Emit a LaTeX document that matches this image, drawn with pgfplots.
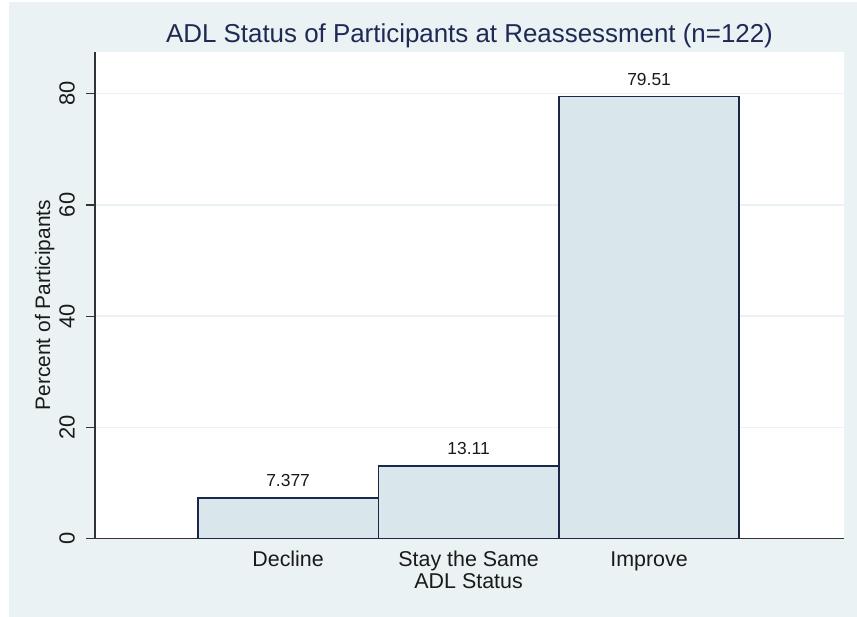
\documentclass[border=0pt]{standalone}
\usepackage{fontspec}
\setmainfont{Liberation Sans}
\usepackage{pgfplots}
\pgfplotsset{compat=1.18}
\definecolor{bg}{HTML}{EAF2F3}
\definecolor{barfill}{HTML}{D9E6EB}
\definecolor{baredge}{HTML}{1C2648}
\definecolor{titlec}{HTML}{1E2A55}
\definecolor{axisc}{HTML}{333333}
\definecolor{txt}{HTML}{1A1A1A}
\newcommand{\up}{\rule{0pt}{16bp}}
\begin{document}
\begin{tikzpicture}[x=1bp,y=1bp]
\fill[white] (-95,-78.3) rectangle (762,538.7);
\fill[bg] (-86,-78.3) rectangle (762,536.7);
\begin{axis}[
  at={(0,0)}, anchor=south west,
  scale only axis, width=749bp, height=486.7bp,
  xmin=-0.07, xmax=4.08, ymin=0, ymax=87.5,
  axis background/.style={fill=white},
  axis x line*=bottom, axis y line*=left,
  axis line style={axisc, line width=1.4bp},
  xtick={1,2,3},
  xticklabels={\up Decline,{\up Stay the Same\\ADL Status},\up Improve},
  x tick style={draw=none},
  ytick={0,20,40,60,80},
  y tick style={axisc, line width=1.2bp},
  tick align=outside, major tick length=9bp,
  ymajorgrids, grid style={bg, line width=1.5bp},
  /pgf/number format/assume math mode=true,
  ticklabel style={text=txt},
  yticklabel style={rotate=90, anchor=south, inner sep=0pt,
    font=\fontsize{22}{24}\selectfont},
  yticklabel shift=11bp,
  xticklabel style={anchor=north, yshift=-3bp, align=center,
    inner sep=0pt, font=\fontsize{21.5}{21.5}\selectfont},
  title={ADL Status of Participants at Reassessment (n=122)},
  title style={at={(0.5,1)}, anchor=base, yshift=4bp, inner sep=0pt,
    font=\fontsize{26}{30}\selectfont, text=titlec},
  ylabel={Percent of Participants},
  ylabel style={at={(axis description cs:-0.067,0.48)}, anchor=center,
    inner sep=0pt, font=\fontsize{21}{24}\selectfont, text=txt},
  point meta=explicit symbolic,
  nodes near coords,
  nodes near coords style={anchor=base, yshift=11bp, inner sep=0pt,
    font=\fontsize{17.5}{20}\selectfont, text=txt},
]
\addplot[ybar, bar width=1, fill=barfill, draw=baredge, line width=1.7bp]
  coordinates {(1,7.377)[7.377] (2,13.11)[13.11] (3,79.51)[79.51]};
\end{axis}
\pgfresetboundingbox
\useasboundingbox (-95,-78.3) rectangle (762,538.7);
\end{tikzpicture}
\end{document}
